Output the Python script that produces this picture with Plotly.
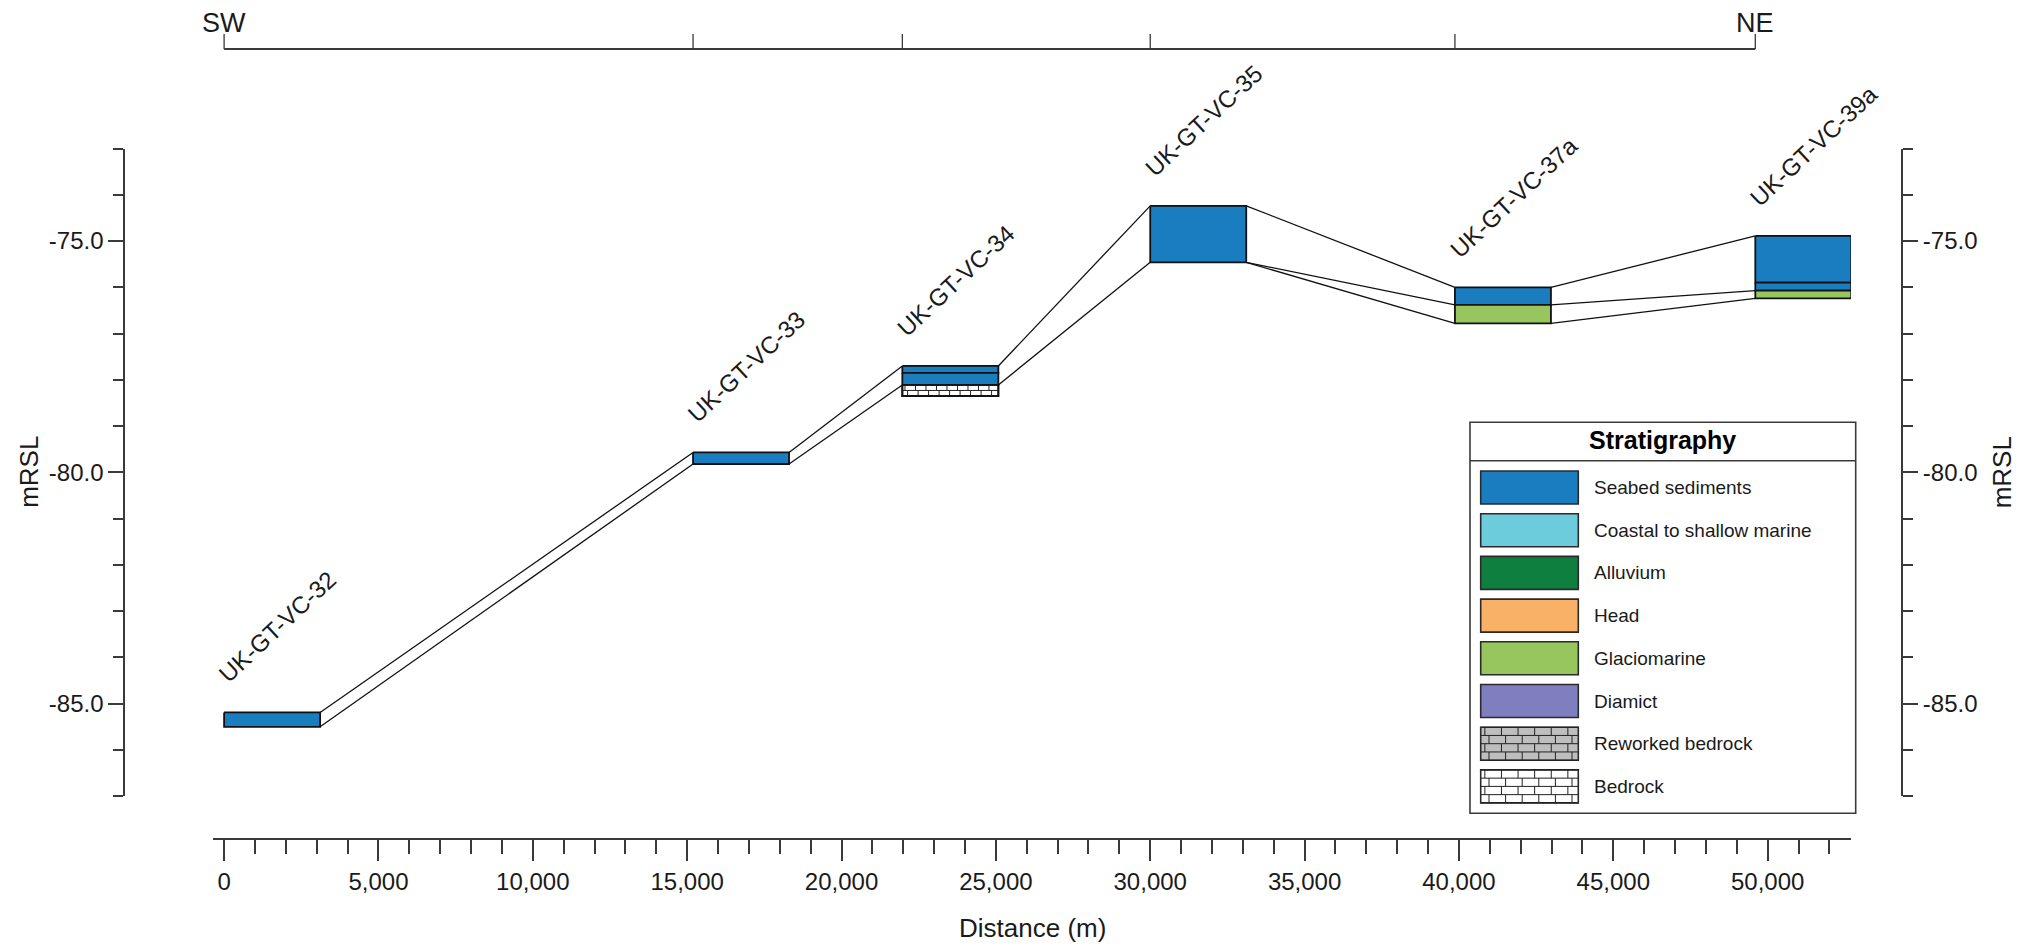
import plotly.graph_objects as go

# ---------------- data ----------------
BOREHOLES = ["UK-GT-VC-32", "UK-GT-VC-33", "UK-GT-VC-34",
             "UK-GT-VC-35", "UK-GT-VC-37a", "UK-GT-VC-39a"]
DISTANCE_M = [0, 15190, 21970, 30000, 39870, 49600]

# stratigraphic units logged in each core (elevation, mRSL)
LAYER_BOREHOLE = [0, 1, 2, 2, 2, 3, 4, 4, 5, 5, 5]
LAYER_TOP = [-85.19, -79.57, -77.70, -77.85, -78.11, -74.24, -76.00, -76.38, -74.89, -75.90, -76.07]
LAYER_BASE = [-85.50, -79.82, -77.85, -78.11, -78.35, -75.46, -76.38, -76.78, -75.90, -76.07, -76.24]
LAYER_UNIT = ["Seabed sediments", "Seabed sediments", "Seabed sediments", "Seabed sediments",
              "Bedrock", "Seabed sediments", "Seabed sediments", "Glaciomarine",
              "Seabed sediments", "Seabed sediments", "Glaciomarine"]

# correlation lines between neighbouring cores
LINK_LEFT_BH = [0, 0, 1, 1, 2, 2, 3, 3, 3, 4, 4, 4]
LINK_LEFT_Z = [-85.19, -85.50, -79.57, -79.82, -77.70, -78.11, -74.24, -75.46, -75.46, -76.00, -76.38, -76.78]
LINK_RIGHT_Z = [-79.57, -79.82, -77.70, -78.11, -74.24, -75.46, -76.00, -76.38, -76.78, -74.89, -76.07, -76.24]

LEGEND_UNITS = ["Seabed sediments", "Coastal to shallow marine", "Alluvium", "Head",
                "Glaciomarine", "Diamict", "Reworked bedrock", "Bedrock"]
UNIT_FILL = ["#197DC0", "#6CCCDC", "#0E7F3F", "#F9B067",
             "#98C65E", "#7F7FBF", "#BEBEBE", "#FFFFFF"]
BRICK_UNITS = ["Reworked bedrock", "Bedrock"]

X_TICKS = list(range(0, 50001, 5000))
X_MINOR = list(range(0, 52001, 1000))
Y_TICKS = [-85.0, -80.0, -75.0]
Y_MINOR = list(range(-87, -72))
X_RANGE = [-360, 52700]
Y_RANGE = [-87, -73]

# ---------------- layout constants (pixels) ----------------
W, H = 2021, 951
FONT = "Liberation Sans, Arial, sans-serif"
TXT = "#1a1a1a"
AX = "#3a3a3a"
X_DOM_PX = (213, 1851)
Y_DOM_PX = (148.5, 796.2)
XAXIS_Y_PX = 839
YL_X_PX = 124.3
YR_X_PX = 1902
TOP_AXIS_Y_PX = 49
TOP_TICK_PX = 15
COL_W = 3110  # drawn column width (m along section)

PX_PER_M_X = (X_DOM_PX[1] - X_DOM_PX[0]) / (X_RANGE[1] - X_RANGE[0])
PX_PER_M_Y = (Y_DOM_PX[1] - Y_DOM_PX[0]) / (Y_RANGE[1] - Y_RANGE[0])


def fill_of(unit):
    return UNIT_FILL[LEGEND_UNITS.index(unit)]


def brick_segments(x0, x1, top, base, bw, rh):
    xs, ys = [], []
    n = max(1, round(abs(base - top) / rh))
    h = (base - top) / n
    for r in range(n + 1):
        y = top + r * h
        xs += [x0, x1, None]
        ys += [y, y, None]
    for r in range(n):
        ya = top + r * h
        yb = ya + h
        x = x0 + (bw / 2 if r % 2 else bw * 0.25)
        while x < x1 - bw * 0.15:
            xs += [x, x, None]
            ys += [ya, yb, None]
            x += bw
    return xs, ys


fig = go.Figure()

# correlation lines
lx, ly = [], []
for b, zl, zr in zip(LINK_LEFT_BH, LINK_LEFT_Z, LINK_RIGHT_Z):
    lx += [DISTANCE_M[b] + COL_W, DISTANCE_M[b + 1], None]
    ly += [zl, zr, None]
fig.add_trace(go.Scatter(x=lx, y=ly, mode="lines", line=dict(color="#111111", width=1.3),
                         hoverinfo="skip"))

# core columns
for b, top, base, unit in zip(LAYER_BOREHOLE, LAYER_TOP, LAYER_BASE, LAYER_UNIT):
    x0 = DISTANCE_M[b]
    x1 = x0 + COL_W
    fig.add_trace(go.Scatter(x=[x0, x1, x1, x0, x0], y=[top, top, base, base, top],
                             mode="lines", fill="toself", fillcolor=fill_of(unit),
                             line=dict(color="#111111", width=1.8), hoverinfo="skip"))
    if unit in BRICK_UNITS:
        bx, by = brick_segments(x0, x1, top, base, 10.5 / PX_PER_M_X, 5.7 / PX_PER_M_Y)
        fig.add_trace(go.Scatter(x=bx, y=by, mode="lines", line=dict(color="#222222", width=1),
                                 hoverinfo="skip"))
        fig.add_trace(go.Scatter(x=[x0, x1, x1, x0, x0], y=[top, top, base, base, top],
                                 mode="lines", line=dict(color="#111111", width=1.8),
                                 hoverinfo="skip"))

# dummy trace so the right-hand axis is built
fig.add_trace(go.Scatter(x=[DISTANCE_M[0]], y=[LAYER_TOP[0]], yaxis="y2", mode="markers",
                         marker=dict(opacity=0), hoverinfo="skip"))

annotations = []
shapes = []

# borehole labels
for name, d, b in zip(BOREHOLES, DISTANCE_M, range(len(BOREHOLES))):
    top = max(t for lb, t in zip(LAYER_BOREHOLE, LAYER_TOP) if lb == b)
    annotations.append(dict(x=d, y=top, xref="x", yref="y", text=name, showarrow=False,
                            textangle=-43, xanchor="left", yanchor="bottom",
                            xshift=-13, yshift=22,
                            font=dict(family=FONT, size=24, color=TXT)))

# top SW-NE line with core positions
ytop = 1 - TOP_AXIS_Y_PX / H
ytick = 1 - (TOP_AXIS_Y_PX - TOP_TICK_PX) / H
shapes.append(dict(type="line", xref="x", yref="paper", x0=DISTANCE_M[0], x1=DISTANCE_M[-1],
                   y0=ytop, y1=ytop, line=dict(color=AX, width=1.8)))
for d in DISTANCE_M:
    shapes.append(dict(type="line", xref="x", yref="paper", x0=d, x1=d, y0=ytop, y1=ytick,
                       line=dict(color=AX, width=1.3)))
for d, t in [(DISTANCE_M[0], "SW"), (DISTANCE_M[-1], "NE")]:
    annotations.append(dict(x=d, y=1 - 23 / H, xref="x", yref="paper", text=t, showarrow=False,
                            xanchor="center", yanchor="middle",
                            font=dict(family=FONT, size=27, color=TXT)))

# axis titles
annotations.append(dict(x=(X_DOM_PX[0] + X_DOM_PX[1]) / 2 / W, y=1 - 928 / H, xref="paper",
                        yref="paper", text="Distance (m)", showarrow=False,
                        xanchor="center", yanchor="middle",
                        font=dict(family=FONT, size=26, color=TXT)))
ymid = 1 - (Y_DOM_PX[0] + Y_DOM_PX[1]) / 2 / H
for xp in (29.5, 2002):
    annotations.append(dict(x=xp / W, y=ymid, xref="paper", yref="paper", text="mRSL",
                            showarrow=False, textangle=-90, xanchor="center", yanchor="middle",
                            font=dict(family=FONT, size=26, color=TXT)))

# ---------------- stratigraphy key (own local pixel axes) ----------------
LEG_X0, LEG_Y0, LEG_W, LEG_H = 1470, 422.3, 385.7, 391
PAD = 4
SW_X0, SW_X1 = 10.7, 108.3
ROW0, ROW_STEP, SW_H = 48.7, 42.7, 33
shapes.append(dict(type="rect", xref="x3", yref="y3", x0=0, x1=LEG_W, y0=0, y1=LEG_H,
                   line=dict(color=AX, width=1.6), fillcolor="rgba(0,0,0,0)"))
shapes.append(dict(type="line", xref="x3", yref="y3", x0=0, x1=LEG_W, y0=38.4, y1=38.4,
                   line=dict(color=AX, width=1.6)))
annotations.append(dict(x=LEG_W / 2, y=17.7, xref="x3", yref="y3", text="<b>Stratigraphy</b>",
                        showarrow=False, xanchor="center", yanchor="middle",
                        font=dict(family=FONT, size=25, color="#000000")))
bxl, byl = [], []
for i, (unit, col) in enumerate(zip(LEGEND_UNITS, UNIT_FILL)):
    y0 = ROW0 + i * ROW_STEP
    y1 = y0 + SW_H
    shapes.append(dict(type="rect", xref="x3", yref="y3", x0=SW_X0, x1=SW_X1, y0=y0, y1=y1,
                       fillcolor=col, line=dict(color="#2a2a2a", width=1.6), layer="below"))
    if unit in BRICK_UNITS:
        sx, sy = brick_segments(SW_X0, SW_X1, y0, y1, 16.6, 8.25)
        bxl += sx
        byl += sy
    annotations.append(dict(x=122.3, y=(y0 + y1) / 2, xref="x3", yref="y3", text=unit,
                            showarrow=False, xanchor="left", yanchor="middle",
                            font=dict(family=FONT, size=19, color=TXT)))
fig.add_trace(go.Scatter(x=bxl, y=byl, xaxis="x3", yaxis="y3", mode="lines",
                         line=dict(color="#222222", width=1), hoverinfo="skip"))

tick_font = dict(family=FONT, size=24, color=TXT)
yaxis_common = dict(domain=[1 - Y_DOM_PX[1] / H, 1 - Y_DOM_PX[0] / H], range=Y_RANGE,
                    anchor="free", showline=True, linecolor=AX, linewidth=2,
                    ticks="outside", ticklen=15, tickwidth=1.5, tickcolor=AX,
                    tickvals=Y_TICKS, ticktext=[f"{v:.1f}" for v in Y_TICKS],
                    tickfont=tick_font,
                    minor=dict(tickvals=Y_MINOR, ticks="outside", ticklen=10, tickwidth=1.5,
                               tickcolor=AX, showgrid=False),
                    showgrid=False, zeroline=False, fixedrange=True, automargin=False)

fig.update_layout(
    width=W, height=H, margin=dict(l=0, r=0, t=0, b=0),
    paper_bgcolor="white", plot_bgcolor="white", showlegend=False,
    font=dict(family=FONT, color=TXT),
    xaxis=dict(domain=[X_DOM_PX[0] / W, X_DOM_PX[1] / W], range=X_RANGE,
               anchor="free", position=1 - XAXIS_Y_PX / H,
               showline=True, linecolor=AX, linewidth=2,
               ticks="outside", ticklen=21, tickwidth=1.5, tickcolor=AX,
               tickvals=X_TICKS, ticktext=[f"{v:,}" for v in X_TICKS], tickfont=tick_font,
               minor=dict(tickvals=X_MINOR, ticks="outside", ticklen=14, tickwidth=1.5,
                          tickcolor=AX, showgrid=False),
               showgrid=False, zeroline=False, fixedrange=True, automargin=False),
    yaxis=dict(position=YL_X_PX / W, side="left", **yaxis_common),
    yaxis2=dict(position=YR_X_PX / W, side="right", overlaying="y", **yaxis_common),
    xaxis3=dict(domain=[(LEG_X0 - PAD) / W, (LEG_X0 + LEG_W + PAD) / W],
                range=[-PAD, LEG_W + PAD], anchor="y3", visible=False, fixedrange=True),
    yaxis3=dict(domain=[1 - (LEG_Y0 + LEG_H + PAD) / H, 1 - (LEG_Y0 - PAD) / H],
                range=[LEG_H + PAD, -PAD], anchor="x3", visible=False, fixedrange=True),
    shapes=shapes, annotations=annotations,
)

fig.write_html("out.html", config={"displayModeBar": False},
               post_script="document.body.style.margin='0';document.body.style.overflow='hidden';")
